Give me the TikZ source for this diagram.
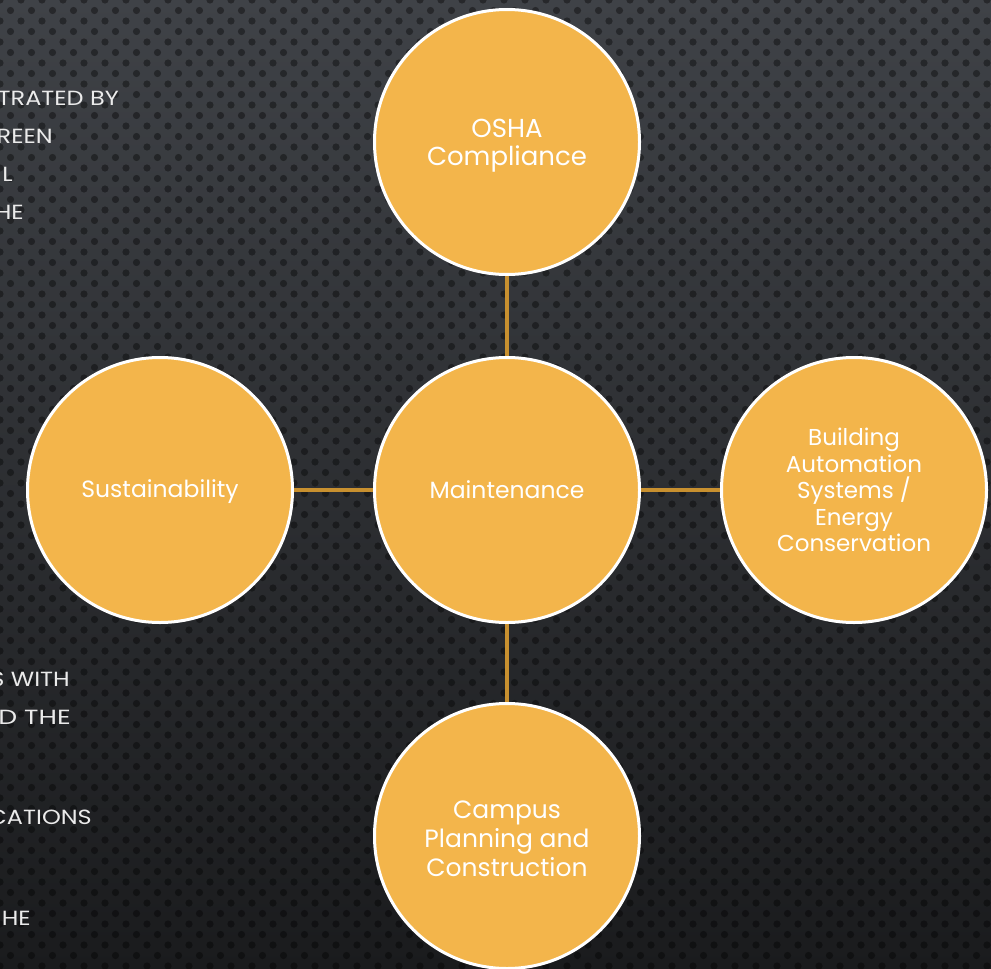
\documentclass[tikz,border=0pt]{standalone}
\usepackage{fontspec}
\setmainfont{Poppins}
\definecolor{bgtop}{HTML}{3F4247}
\definecolor{bgbot}{HTML}{1A1B1D}
\definecolor{disc}{HTML}{F3B54B}
\definecolor{link}{HTML}{C8902F}
\newcommand{\wide}[1]{\scalebox{1.17}[1]{#1}}
\tikzset{
  topic/.style={circle, fill=disc, draw=white, line width=3pt, minimum size=265pt, inner sep=0pt,
    text=white, align=center, font=\fontsize{23.5}{26.5}\selectfont},
  topictext/.style={text=white, align=center, inner sep=0pt},
  linkline/.style={draw=link, line width=4pt},
  slidetext/.style={text=white!92!black, anchor=east, inner sep=0pt, font=\fontsize{20.5}{22}\selectfont}
}
\begin{document}
\begin{tikzpicture}[x=1pt,y=-1pt]
\useasboundingbox (0,0) rectangle (991,969);
\clip (0,0) rectangle (991,969);
\shade[top color=bgtop, bottom color=bgbot] (0,0) rectangle (991,969);
% dot texture
\foreach \r in {0,...,93}{
  \pgfmathsetmacro{\yy}{\r*10.5}
  \pgfmathsetmacro{\xo}{mod(\r,2)*10.5}
  \foreach \c in {0,...,48}{
    \fill[black, opacity=0.38] ({\c*21+\xo},\yy) circle (3.6);
  }
}
% partial slide text on the left
\node[slidetext] (t1) at (119,98) {\wide{TRATED BY}};
\node[slidetext] (t2) at (53,136) {\wide{REEN}};
\node[slidetext] (t3) at (13,174) {\wide{L}};
\node[slidetext] (t4) at (24,212) {\wide{HE}};
\node[slidetext] (t5) at (70,679) {\wide{S WITH}};
\node[slidetext] (t6) at (71,717) {\scalebox{1.3}[1]{D THE}};
\node[slidetext] (t7) at (92,817) {\wide{CATIONS}};
\node[slidetext] (t8) at (31,918) {\wide{HE}};
% circles
\node[topic] (osha) at (507,142) {};
\node[topictext, font=\fontsize{26}{28}\selectfont] (oshatext) at (507,146) {OSHA\\Compliance};
\node[topic] (main) at (507,490) {Maintenance};
\node[topic] (sust) at (160,490) {};
\node[topictext, font=\fontsize{23.5}{26.5}\selectfont] (susttext) at (160,492) {Sustainability};
\node[topic, font=\fontsize{23}{26.5}\selectfont] (bas) at (854,490) {Building\\Automation\\Systems /\\Energy\\Conservation};
\node[topic] (camp) at (507,836) {};
\node[topictext, font=\fontsize{25}{29}\selectfont] (camptext) at (507,839) {Campus\\Planning and\\Construction};
% connectors
\draw[linkline] (osha) -- (main);
\draw[linkline] (sust) -- (main);
\draw[linkline] (main) -- (bas);
\draw[linkline] (main) -- (camp);
\end{tikzpicture}
\end{document}
